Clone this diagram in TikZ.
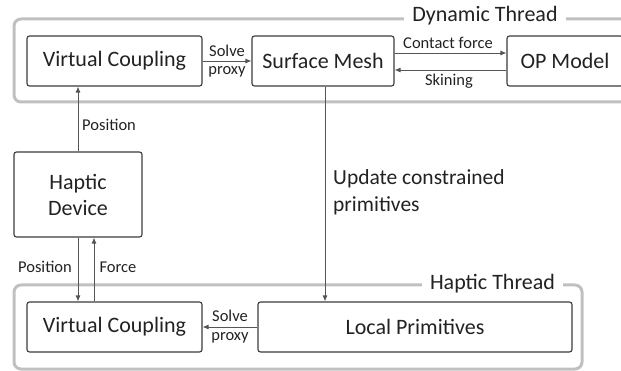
\documentclass[tikz,border=0pt]{standalone}
\usepackage{fontspec}
\setmainfont{Carlito}
\usetikzlibrary{arrows.meta}
\definecolor{boxline}{HTML}{3A3A3A}
\definecolor{arrline}{HTML}{555555}
\definecolor{frameline}{HTML}{C0C0C0}
\definecolor{txt}{HTML}{222222}
\begin{document}
\begin{tikzpicture}[x=1pt,y=-1pt,
  blk/.style={draw=boxline,line width=1.1pt,rounded corners=2.5pt,inner sep=0pt,
    font=\fontsize{22}{26}\selectfont,text=txt,align=center},
  frm/.style={draw=frameline,line width=3pt,rounded corners=7pt},
  ttl/.style={fill=white,inner xsep=8pt,inner ysep=1pt,font=\fontsize{22}{26}\selectfont,text=txt},
  lbl/.style={font=\fontsize{16.5}{21}\selectfont,text=txt,inner sep=0pt},
  arr/.style={draw=arrline,line width=0.9pt,-{Latex[length=6pt,width=5pt]}}
]
\useasboundingbox (0,0) rectangle (621,371);
\clip (0,0) rectangle (621,371);
% frames
\draw[frm] (14,19) rectangle (660,102);
\node[ttl] (dt) at (485,16) {Dynamic Thread};
\draw[frm] (14,285) rectangle (582,369);
\node[ttl] (ht) at (492.5,284) {Haptic Thread};
% blocks
\node[blk,minimum width=175pt,minimum height=50pt] (vc1) at (114.5,61) {Virtual Coupling};
\node[blk,minimum width=142pt,minimum height=50pt] (sm) at (323,61) {Surface Mesh};
\node[blk,minimum width=116pt,minimum height=50pt] (op) at (565,61) {OP Model};
\node[blk,minimum width=128pt,minimum height=85pt] (hd) at (78,194.5) {Haptic\\Device};
\node[blk,minimum width=175pt,minimum height=50pt] (vc2) at (114.5,327) {Virtual Coupling};
\node[blk,minimum width=314pt,minimum height=50pt] (lp) at (415,327) {Local Primitives};
% connectors
\draw[arr] (vc1.east) -- (sm.west);
\node[lbl] (s1) at (227,51) {Solve};
\node[lbl] (p1) at (227,72) {proxy};
\draw[arr] ([yshift=8pt]sm.east) -- ([yshift=8pt]op.west);
\node[lbl] (cf) at (448,43) {Contact force};
\draw[arr] ([yshift=-9pt]op.west) -- ([yshift=-9pt]sm.east);
\node[lbl] (sk) at (449,81) {Skining};
\draw[arr] (hd.north) -- (hd.north |- vc1.south);
\node[lbl,anchor=west] (pos1) at (82,125) {Position};
\draw[arr] (hd.south) -- (hd.south |- vc2.north);
\draw[arr] ([xshift=16pt]hd.south |- vc2.north) -- ([xshift=16pt]hd.south);
\node[lbl] (pos2) at (45,267) {Position};
\node[lbl] (fo) at (118,267) {Force};
\draw[arr] ([xshift=2pt]sm.south) -- ([xshift=2pt]sm.south |- lp.north);
\node[lbl,anchor=north west,align=left,font=\fontsize{21.5}{27}\selectfont] (up) at (333,169) {Update constrained\\primitives};
\draw[arr] (lp.west) -- (vc2.east);
\node[lbl] (s2) at (230,316) {Solve};
\node[lbl] (p2) at (230,338) {proxy};
\end{tikzpicture}
\end{document}
